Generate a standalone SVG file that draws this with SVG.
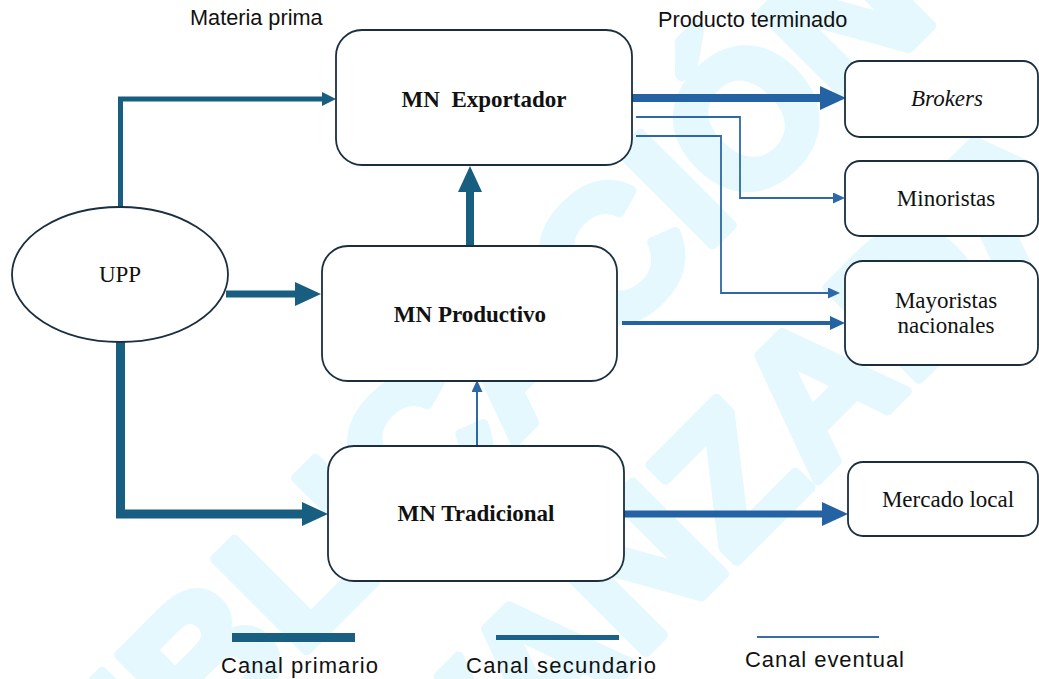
<svg xmlns="http://www.w3.org/2000/svg" width="1039" height="679" viewBox="0 0 1039 679">
<style>
.wm{font-family:"Liberation Sans",Arial,sans-serif;font-weight:bold;font-size:188px;fill:#E4F8FE;stroke:#E4F8FE;stroke-width:10;stroke-linejoin:round}
.box{fill:#fff;stroke:#1B2F3F;stroke-width:1.8}
.lbl{font-family:"Liberation Serif","Times New Roman",serif;font-size:23px;fill:#111;text-anchor:middle}
.b{font-weight:bold}
.hd{font-family:"Liberation Sans",Arial,sans-serif;font-size:21.7px;fill:#111}
.lg{font-family:"Liberation Sans",Arial,sans-serif;font-size:22px;fill:#111}
.c{fill:none;stroke-linejoin:miter;stroke-linecap:butt}
.teal{stroke:#185E80}
.blue{stroke:#2462A3}
.ev{stroke:#2E68A8}
</style>
<defs>
<marker id="hTealBig" markerUnits="userSpaceOnUse" markerWidth="26" markerHeight="24" viewBox="0 0 26 24" refX="0" refY="12" orient="auto"><path d="M0,0 L26,12 L0,24 Z" fill="#185E80"/></marker>
<marker id="hTealSm" markerUnits="userSpaceOnUse" markerWidth="14" markerHeight="14" viewBox="0 0 14 14" refX="0" refY="7" orient="auto"><path d="M0,0 L14,7 L0,14 Z" fill="#185E80"/></marker>
<marker id="hBlueBig" markerUnits="userSpaceOnUse" markerWidth="26" markerHeight="24" viewBox="0 0 26 24" refX="0" refY="12" orient="auto"><path d="M0,0 L26,12 L0,24 Z" fill="#2462A3"/></marker>
<marker id="hBlueMed" markerUnits="userSpaceOnUse" markerWidth="15" markerHeight="14" viewBox="0 0 15 14" refX="0" refY="7" orient="auto"><path d="M0,0 L15,7 L0,14 Z" fill="#2462A3"/></marker>
<marker id="hBlueSm" markerUnits="userSpaceOnUse" markerWidth="12" markerHeight="11" viewBox="0 0 12 11" refX="0" refY="5.5" orient="auto"><path d="M0,0 L12,5.5 L0,11 Z" fill="#2E68A8"/></marker>
</defs>
<rect width="1039" height="679" fill="#fff"/>
<g id="watermark">
<text class="wm" x="17" y="940" transform="rotate(-45 17 940)">PUBLICACIÓN</text>
<text class="wm" x="376" y="922" transform="rotate(-45 376 922)">AVANZADA</text>
</g>
<g id="headers">
<text class="hd" x="190" y="25">Materia prima</text>
<text class="hd" x="658" y="27">Producto terminado</text>
</g>
<g id="connectors">
<path class="c teal" stroke-width="5" d="M120.5,207 V99 H322" marker-end="url(#hTealSm)"/>
<path class="c teal" stroke-width="7" d="M226,294 H295" marker-end="url(#hTealBig)"/>
<path class="c teal" stroke-width="9" d="M120.5,342 V514 H302" marker-end="url(#hTealBig)"/>
<path class="c teal" stroke-width="8" d="M470,246 V192" marker-end="url(#hTealBig)"/>
<path class="c blue" stroke-width="8" d="M632,98 H820" marker-end="url(#hBlueBig)"/>
<path class="c ev" stroke-width="1.8" d="M636,117 H740 V198 H833" marker-end="url(#hBlueSm)"/>
<path class="c ev" stroke-width="1.8" d="M636,136 H721 V293 H828" marker-end="url(#hBlueSm)"/>
<path class="c blue" stroke-width="4" d="M622,323 H830" marker-end="url(#hBlueMed)"/>
<path class="c ev" stroke-width="2" d="M477,446 V392" marker-end="url(#hBlueSm)"/>
<path class="c blue" stroke-width="7" d="M624,514 H822" marker-end="url(#hBlueBig)"/>
</g>
<g id="upp">
<ellipse class="box" cx="120" cy="274.5" rx="108" ry="67.5"/>
<text class="lbl" x="120" y="282">UPP</text>
</g>
<g id="mn-exportador">
<rect class="box" x="336" y="30" width="296" height="135" rx="26"/>
<text class="lbl b" x="484" y="107" xml:space="preserve">MN  Exportador</text>
</g>
<g id="mn-productivo">
<rect class="box" x="322" y="246" width="295" height="135" rx="26"/>
<text class="lbl b" x="470" y="322">MN Productivo</text>
</g>
<g id="mn-tradicional">
<rect class="box" x="328" y="446" width="296" height="135" rx="26"/>
<text class="lbl b" x="476" y="521">MN Tradicional</text>
</g>
<g id="brokers">
<rect class="box" x="845" y="61" width="193" height="76" rx="15"/>
<text class="lbl" x="947" y="106" font-style="italic">Brokers</text>
</g>
<g id="minoristas">
<rect class="box" x="845" y="161" width="193" height="75" rx="15"/>
<text class="lbl" x="946" y="206">Minoristas</text>
</g>
<g id="mayoristas">
<rect class="box" x="845" y="261" width="193" height="104" rx="18"/>
<text class="lbl" x="946" y="308">Mayoristas</text>
<text class="lbl" x="946" y="333">nacionales</text>
</g>
<g id="mercado-local">
<rect class="box" x="848" y="462" width="190" height="74" rx="15"/>
<text class="lbl" x="948" y="507">Mercado local</text>
</g>
<g id="legend">
<rect x="232" y="633" width="123" height="9" fill="#1A5F82"/>
<rect x="496" y="635" width="123" height="5" fill="#1C6189"/>
<line x1="757" y1="637" x2="879" y2="637" stroke="#3A6E9E" stroke-width="2"/>
<text class="lg" x="221" y="673" textLength="157">Canal primario</text>
<text class="lg" x="466" y="673" textLength="190">Canal secundario</text>
<text class="lg" x="745" y="667" textLength="159">Canal eventual</text>
</g>
</svg>
